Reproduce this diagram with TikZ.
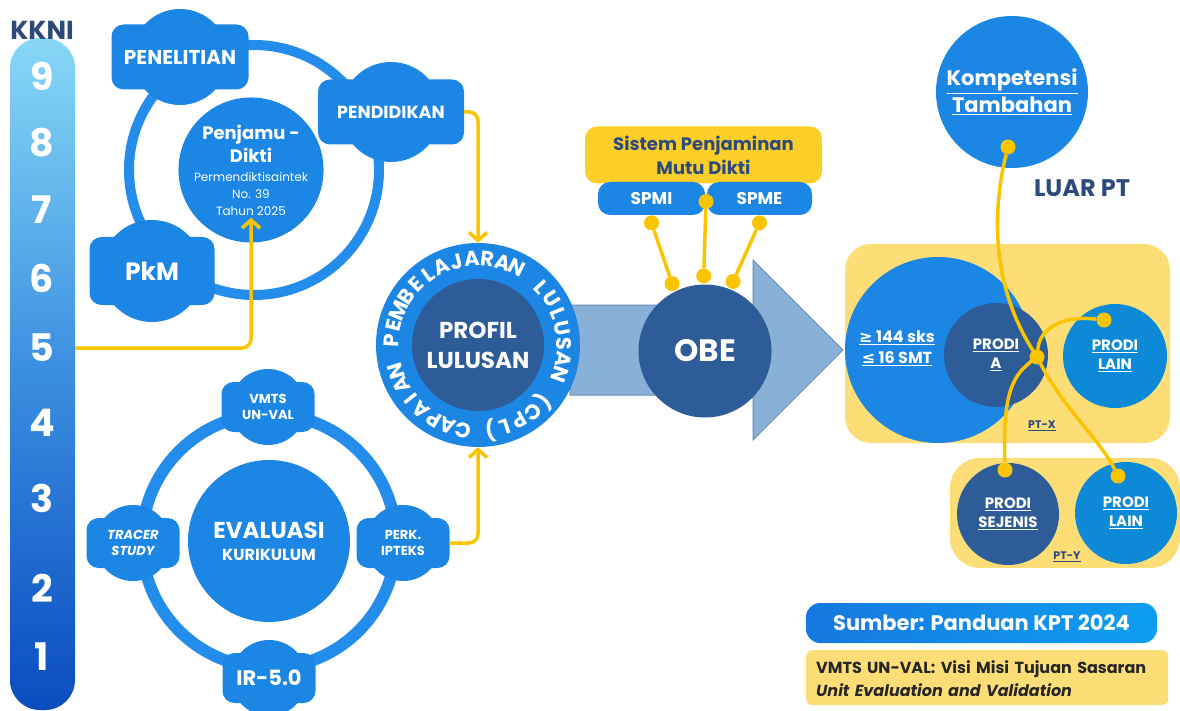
\documentclass[tikz,border=0pt]{standalone}
\usepackage{fontspec}
\setmainfont{Poppins}
\newfontfamily\symfont{DejaVu Sans}
\usetikzlibrary{positioning,calc,arrows.meta}
\definecolor{blobblue}{RGB}{28,134,229}
\definecolor{ringblue}{RGB}{36,140,234}
\definecolor{deepblue}{RGB}{45,92,153}
\definecolor{lainblue}{RGB}{12,138,216}
\definecolor{arrowblue}{RGB}{137,177,216}
\definecolor{arrowedge}{RGB}{105,140,180}
\definecolor{linkyellow}{RGB}{250,196,0}
\definecolor{boxyellow}{RGB}{253,222,118}
\definecolor{spmyellow}{RGB}{252,206,40}
\definecolor{inkblue}{RGB}{45,74,125}
\definecolor{kknitop}{RGB}{135,216,246}
\definecolor{kknimid}{RGB}{58,142,224}
\definecolor{kknibot}{RGB}{10,76,192}
\definecolor{sumberleft}{RGB}{22,120,226}
\definecolor{sumberright}{RGB}{14,158,240}
\newcommand\fsz[2]{\fontsize{#1}{#2}\selectfont}
\newcommand\cplfont{\fsz{21}{21}\bfseries}
\newcommand\cpltext{C,A,P,A,I,A,N,~,P,E,M,B,E,L,A,J,A,R,A,N,~,L,U,L,U,S,A,N,~,{(},C,P,L,{)}}
\newlength\cplw

\begin{document}
\begin{tikzpicture}[x=1pt, y=-1pt, font=\bfseries,
  blob/.style={fill=blobblue, rounded corners=12pt, text=white, align=center, inner sep=0pt},
  disc/.style={circle, fill=blobblue, text=white, align=center, inner sep=0pt},
  ring/.style={draw=ringblue, line width=10pt},
  ylink/.style={draw=linkyellow, line width=3.5pt, rounded corners=9pt},
  yarrow/.style={ylink, -{Straight Barb[length=8pt, width=18pt]}},
  ydot/.style={circle, fill=linkyellow, inner sep=0pt, minimum size=15pt},
  ulbl/.style={text=white, align=center, inner sep=0pt},
  ringchar/.style={text=white, inner sep=0pt, anchor=base, font=\cplfont}]
\useasboundingbox (0,0) rectangle (1180,711);

% KKNI scale
\node[rounded corners=30pt, minimum width=65pt, minimum height=672pt,
  top color=kknitop, bottom color=kknibot, middle color=kknimid] (bar) at (42.5,374) {};
\node[font=\fsz{26}{26}\bfseries, text=inkblue] (kkni) at (42,30) {KKNI};
\foreach \d/\y in {9/76,8/143,7/210,6/278,5/348,4/423,3/498,2/588,1/657}
  \node[font=\fsz{38}{38}\bfseries, text=white] (k\d) at (42,\y) {\d};

% Penjamu-Dikti cycle
\draw[ring] (254,170) circle[radius=125];
\foreach \x/\y/\r in {180/57/48, 391/112/50, 152/271/51}
  \fill[blobblue] (\x,\y) circle[radius=\r];
\node[blob, minimum width=137pt, minimum height=65pt, font=\fsz{20}{20}\bfseries] (penelitian) at (180,57) {PENELITIAN};
\node[blob, minimum width=146pt, minimum height=65pt, font=\fsz{17.5}{17.5}\bfseries] (pendidikan) at (391,112) {PENDIDIKAN};
\node[blob, minimum width=125pt, minimum height=68pt, font=\fsz{25}{25}\bfseries] (pkm) at (152,271) {PkM};
\node[disc, minimum size=141pt, font=\fsz{18}{23}\bfseries] (penjamu) at (251,170)
  {Penjamu -\\Dikti\\[-4pt]\fsz{12}{17}\mdseries Permendiktisaintek\\[-6pt]\fsz{12}{17}\mdseries No. 39\\[-6pt]\fsz{12}{17}\mdseries Tahun 2025};

% Evaluasi cycle
\draw[ring, line width=12pt] (269,541) circle[radius=127];
\foreach \x/\y in {268/407, 133/543, 403/543, 269/678}
  \fill[blobblue] (\x,\y) circle[radius=38];
\node[blob, minimum width=93pt, minimum height=50pt, font=\fsz{13}{16}\bfseries] (vmts) at (268,407) {VMTS\\UN-VAL};
\node[blob, minimum width=93pt, minimum height=50pt, font=\fsz{13}{16}\bfseries\itshape] (tracer) at (133,543) {TRACER\\STUDY};
\node[blob, minimum width=93pt, minimum height=50pt, font=\fsz{13}{16}\bfseries] (perk) at (403,543) {PERK.\\IPTEKS};
\node[blob, minimum width=93pt, minimum height=50pt, font=\fsz{21}{21}\bfseries] (ir) at (269,678) {IR-5.0};
\node[disc, minimum size=162pt, font=\fsz{23}{26}\bfseries] (evaluasi) at (269,541) {EVALUASI\\[-4pt]\fsz{16}{20}\bfseries KURIKULUM};

% flow arrow, profil lulusan, OBE
\filldraw[fill=arrowblue, draw=arrowedge, line width=1pt]
  (570,305) -- (753,305) -- (753,260) -- (843,350) -- (753,440) -- (753,395) -- (570,395) -- cycle;
\node[disc, minimum size=204pt] (profil) at (478,345) {};
\node[disc, fill=deepblue, minimum size=132pt, font=\fsz{23}{30}\bfseries] (lulusan) at (profil) {PROFIL\\LULUSAN};
% CPL lettering round the ring: measure, then spread over 352 degrees
\gdef\cplsum{0}
\foreach \c in \cpltext {
  \settowidth\cplw{\cplfont\c}
  \pgfmathsetmacro\t{\cplsum+\cplw}\xdef\cplsum{\t}}
\pgfmathsetmacro\cplgap{(86*pi/180*352-\cplsum)/34}
\gdef\cplpos{95}
\foreach \c [count=\i] in \cpltext {
  \settowidth\cplw{\cplfont\c}
  \pgfmathsetmacro\a{\cplpos+(\cplw+\cplgap)/2/86*180/pi}
  \node[ringchar, rotate={-\a-90}] (cpl\i) at ($(profil.center)+(\a:79)$) {\c};
  \pgfmathsetmacro\t{\cplpos+(\cplw+\cplgap)/86*180/pi}\xdef\cplpos{\t}}
\node[disc, fill=deepblue, minimum size=133pt, font=\fsz{31}{31}\bfseries] (obe) at (705,351) {OBE};

% penjaminan mutu
\node[fill=spmyellow, rounded corners=12pt, minimum width=237pt, minimum height=57pt, text=inkblue,
  align=center, inner sep=0pt, font=\fsz{18}{24}\bfseries] (spm) at (703.5,155) {Sistem Penjaminan\\Mutu Dikti};
\node[blob, minimum width=107pt, minimum height=33pt, font=\fsz{17}{17}\bfseries] (spmi) at (651.5,198.5) {SPMI};
\node[blob, minimum width=105pt, minimum height=33pt, font=\fsz{17}{17}\bfseries] (spme) at (759.5,198.5) {SPME};
\node[ydot] (mdot) at ($(spmi.east)!0.5!(spme.west)+(0,3)$) {};
\node[ydot, anchor=north] (idot) at (spmi.south) {};
\node[ydot, anchor=north] (edot) at (spme.south) {};
\foreach \n/\a in {1/-116, 2/-91, 3/-68}
  \node[ydot] (odot\n) at ($(obe.center)+(\a:75)$) {};
\draw[ylink] (idot) -- (odot1);
\draw[ylink] (mdot) -- (odot2);
\draw[ylink] (edot) -- (odot3);

% yellow arrows
\draw[yarrow, shorten >=-25pt] (bar.east |- k5) -| (penjamu.south);
\draw[yarrow] (pendidikan.east) -| (profil.north);
\draw[yarrow] (perk.east) -| (profil.south);

% perguruan tinggi
\fill[boxyellow, rounded corners=26pt] (845,244) rectangle (1170,443);
\fill[boxyellow, rounded corners=30pt] (950,458) rectangle (1180,568);
\node[disc, minimum size=186pt] (sks) at (938,350) {};
\node[ulbl, font=\fsz{16}{21}\bfseries] (sksinfo) at (897,348)
  {\underline{{\symfont ≥} 144 sks}\\\underline{{\symfont ≤} 16 SMT}};
\node[disc, fill=deepblue, minimum size=104pt, font=\fsz{15}{19}\bfseries] (prodia) at (996,355) {\underline{PRODI}\\\underline{A}};
\node[disc, fill=lainblue, minimum size=104pt, font=\fsz{15}{19}\bfseries] (lain1) at (1115,356) {\underline{PRODI}\\\underline{LAIN}};
\node[text=inkblue, font=\fsz{11}{11}\bfseries] (ptx) at (1042,426) {\underline{PT-X}};
\node[disc, fill=deepblue, minimum size=102pt, font=\fsz{15}{19}\bfseries] (sejenis) at (1008,514) {\underline{PRODI}\\\underline{SEJENIS}};
\node[disc, fill=lainblue, minimum size=102pt, font=\fsz{15}{19}\bfseries] (lain2) at (1126,513) {\underline{PRODI}\\\underline{LAIN}};
\node[text=inkblue, font=\fsz{11}{11}\bfseries] (pty) at (1067,557) {\underline{PT-Y}};

% luar PT
\node[disc, minimum size=152pt, font=\fsz{21}{27}\bfseries] (kompetensi) at (1012,92) {\underline{Kompetensi}\\\underline{Tambahan}};
\node[text=inkblue, font=\fsz{24}{24}\bfseries] (luar) at (1082,188) {LUAR PT};
\node[ydot] (kdot) at ($(kompetensi.center)+(-4,55)$) {};
\node[ydot] (hub) at (1037,357) {};
\node[ydot] (l1dot) at ($(lain1.center)+(-11,-36)$) {};
\node[ydot] (l2dot) at ($(lain2.center)+(-8,-37)$) {};
\node[ydot] (sdot) at ($(sejenis.center)+(-3,-44)$) {};
\draw[ylink] (kdot) .. controls (990,220) and (995,290) .. (hub.center)
  .. controls (1065,410) and (1100,440) .. (l2dot);
\draw[ylink] (l1dot) .. controls (1060,315) and (1040,330) .. (hub.center)
  .. controls (1010,378) and (1003,400) .. (sdot);

% sumber
\node[left color=sumberleft, right color=sumberright, rounded corners=14pt, minimum width=351pt,
  minimum height=40pt, text=white, font=\fsz{21}{21}\bfseries] (sumber) at (981.5,623) {Sumber: Panduan KPT 2024};
\node[fill=boxyellow, rounded corners=6pt, anchor=north west, text width=342pt, align=left,
  inner sep=10pt, text depth=22pt, text=black!85, font=\fsz{16}{23}\bfseries] (note) at (806,650)
  {VMTS UN-VAL: Visi Misi Tujuan Sasaran\\\fsz{16}{23}\bfseries\itshape Unit Evaluation and Validation};
\end{tikzpicture}
\end{document}
